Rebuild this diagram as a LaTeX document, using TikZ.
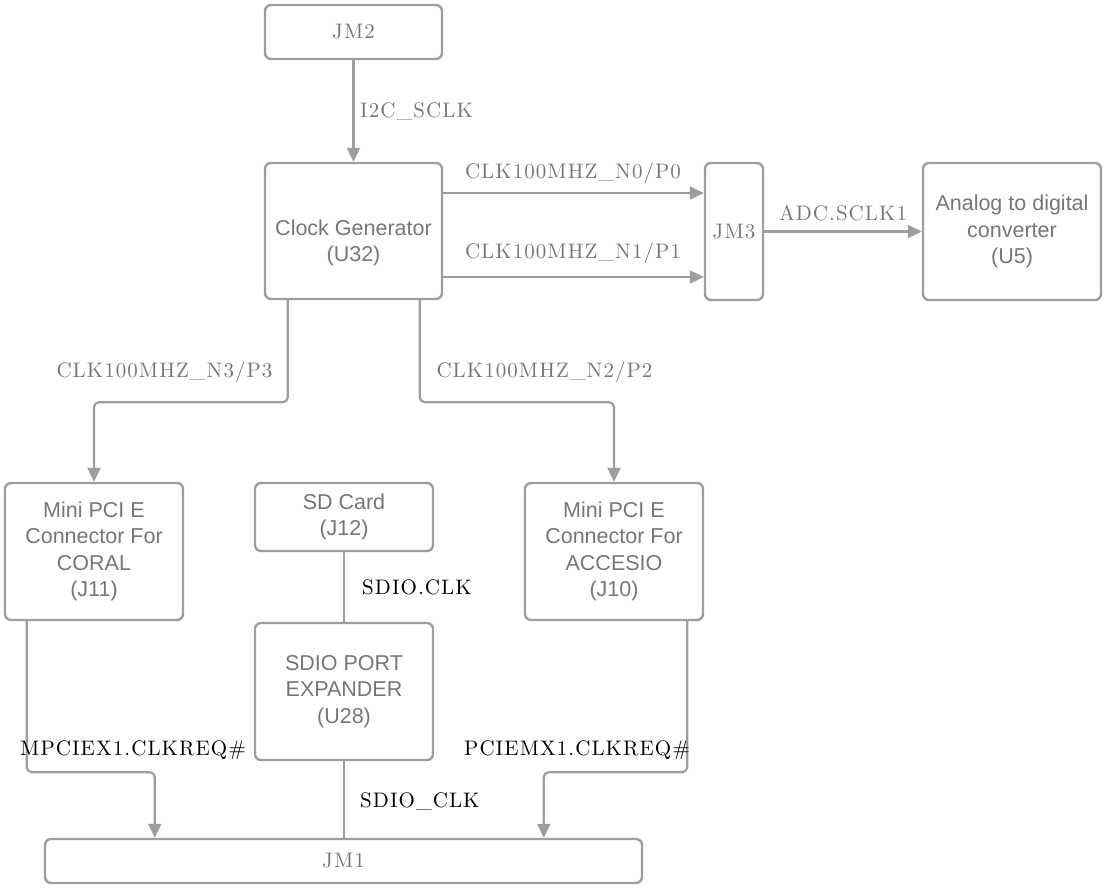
\documentclass[tikz,border=0pt]{standalone}
\usepackage{fontspec}
\setmainfont{Latin Modern Roman}
\newfontfamily\boxfont{Liberation Sans}
\newfontfamily\lblfont{lmroman10-regular.otf}[LetterSpace=5]
\usetikzlibrary{arrows.meta}
\definecolor{linegray}{HTML}{9E9E9E}
\definecolor{textgray}{HTML}{767676}
\begin{document}
\begin{tikzpicture}[x=1pt,y=-1pt,
  box/.style={draw=linegray,line width=2.4pt,rounded corners=6pt,align=center,text=textgray,
    font=\boxfont\fontsize{21.5}{26.5}\selectfont,inner sep=0pt},
  sbox/.style={box,font=\lblfont\fontsize{21}{24}\selectfont},
  btext/.style={align=center,text=textgray,font=\boxfont\fontsize{21.5}{26.5}\selectfont,inner sep=0pt},
  conn/.style={draw=linegray,line width=2.2pt,rounded corners=5pt},
  arr/.style={conn,-{Triangle[length=14pt,width=13pt]}},
  lbl/.style={font=\lblfont\fontsize{21}{24}\selectfont,text=textgray,inner sep=0pt},
  lblk/.style={lbl,text=black}]
\useasboundingbox (0,0) rectangle (1107,890);

% boxes
\node[sbox,minimum width=177pt,minimum height=54pt] (jm2) at (353.5,32) {JM2};
\node[box,minimum width=177pt,minimum height=136pt] (cg) at (353.5,231) {};
\node[btext,yshift=-12pt] (cgt) at (cg) {Clock Generator\\(U32)};
\node[sbox,minimum width=58pt,minimum height=137pt] (jm3) at (734,231.5) {JM3};
\node[box,minimum width=178pt,minimum height=137pt] (adc) at (1012,231.5) {Analog to digital\\converter\\(U5)};
\node[box,minimum width=178pt,minimum height=137pt] (j11) at (94,551.5) {Mini PCI E\\Connector For\\CORAL\\(J11)};
\node[box,minimum width=178pt,minimum height=68pt] (sd) at (344,517) {SD Card\\(J12)};
\node[box,minimum width=178pt,minimum height=137pt] (j10) at (614,551.5) {Mini PCI E\\Connector For\\ACCESIO\\(J10)};
\node[box,minimum width=178pt,minimum height=137pt] (sdio) at (344,691.5) {SDIO PORT\\EXPANDER\\(U28)};
\node[sbox,minimum width=597pt,minimum height=44pt] (jm1) at (343.5,861) {JM1};

% connectors
\draw[arr] (jm2.south) -- (cg.north);
\draw[arr] ([yshift=38pt]cg.east) -- ([yshift=38pt]cg.east -| jm3.west);
\draw[arr] ([yshift=-46pt]cg.east) -- ([yshift=-46pt]cg.east -| jm3.west);
\draw[arr] (jm3.east) -- (jm3.east -| adc.west);
\draw[arr] ([xshift=24pt]cg.south west) -- ++(0,102) -| (j11.north);
\draw[arr] ([xshift=156pt]cg.south west) -- ++(0,102) -| (j10.north);
\draw[conn] (sd.south) -- (sdio.north);
\draw[conn] (sdio.south) -- (sdio.south |- jm1.north);
\draw[arr] ([xshift=23pt]j11.south west) -- ++(0,151) -| ([xshift=111pt]jm1.north west);
\draw[arr] ([xshift=-17pt]j10.south east) -- ++(0,151) -| ([xshift=500pt]jm1.north west);

% labels
\node[lbl,anchor=west] (l1) at (360,112) {I2C\_SCLK};
\node[lbl] (l2) at (573,173) {CLK100MHZ\_N0/P0};
\node[lbl] (l3) at (573,253) {CLK100MHZ\_N1/P1};
\node[lbl] (l4) at (843,213) {ADC.SCLK1};
\node[lbl] (l5) at (164.5,372) {CLK100MHZ\_N3/P3};
\node[lbl] (l6) at (544.5,372) {CLK100MHZ\_N2/P2};
\node[lblk,anchor=west] (l7) at (362,587) {SDIO.CLK};
\node[lblk,anchor=west] (l8) at (360,802) {SDIO\_CLK};
\node[lblk] (l9) at (133,750) {MPCIEX1.CLKREQ\#};
\node[lblk] (l10) at (577,750) {PCIEMX1.CLKREQ\#};
\end{tikzpicture}
\end{document}
